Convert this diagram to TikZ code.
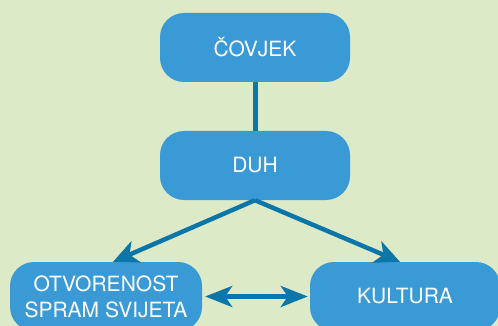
\documentclass[tikz,border=0pt]{standalone}
\usepackage{fontspec}
\setmainfont{TeX Gyre Heros}
\usetikzlibrary{arrows.meta}
\definecolor{bgGreen}{RGB}{221,234,200}
\definecolor{boxBlue}{RGB}{58,154,214}
\definecolor{lineBlue}{RGB}{12,118,168}
\tikzset{
  pojam/.style={fill=boxBlue, rounded corners=24pt, minimum width=190pt, minimum height=69pt,
    text=white, font=\fontsize{21}{26}\selectfont, align=center, inner sep=0pt},
  veza/.style={lineBlue, line width=4.5pt},
  strelica/.style={veza, -{Stealth[length=25pt,width=23pt,inset=7pt]}},
}
\begin{document}
\begin{tikzpicture}[x=1pt,y=-1pt]
\useasboundingbox[fill=bgGreen] (0,0) rectangle (498,326);
% concepts
\node[pojam] (covjek) at (255,47.5) {ČOVJEK};
\node[pojam] (duh) at (255,165.5) {DUH};
\node[pojam, minimum width=192pt] (otvorenost) at (106,296.5) {OTVORENOST\\SPRAM SVIJETA};
\node[pojam] (kultura) at (405,296.5) {KULTURA};
% links
\draw[veza, line width=5pt] (covjek) -- (duh);
\draw[strelica] (duh.south) -- ([xshift=7pt]otvorenost.north);
\draw[strelica] (duh.south) -- ([xshift=-5pt]kultura.north);
\draw[veza, {Stealth[length=27pt,width=21pt,inset=7pt]}-{Stealth[length=27pt,width=21pt,inset=7pt]}, shorten <=3pt, shorten >=2pt] (otvorenost.east) -- (kultura.west);
\end{tikzpicture}
\end{document}
